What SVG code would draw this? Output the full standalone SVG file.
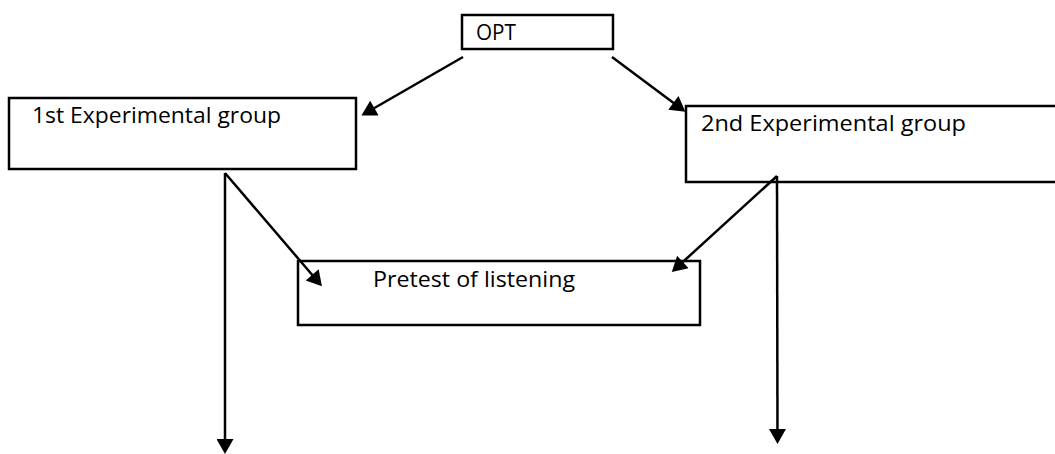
<svg xmlns="http://www.w3.org/2000/svg" width="1055" height="454" viewBox="0 0 1055 454">
  <style>
    .box { fill: none; stroke: #000000; stroke-width: 2.5; }
    .lbl { font-family: "Open Sans", "Liberation Sans", Arial, sans-serif; font-size: 21px; fill: #000000; }
    .conn { stroke: #000000; stroke-width: 2.5; fill: none; marker-end: url(#arrow); }
  </style>
  <defs>
    <marker id="arrow" markerUnits="userSpaceOnUse" markerWidth="17" markerHeight="17" viewBox="0 0 15 17" refX="12" refY="8.5" orient="auto">
      <path d="M0,0 L15,8.5 L0,17 Z" fill="#000000"/>
    </marker>
  </defs>
  <rect width="1055" height="454" fill="#ffffff"/>
  <g id="node-opt">
    <rect class="box" x="462" y="15" width="151" height="34"/>
    <text class="lbl" x="476" y="40" textLength="40" lengthAdjust="spacingAndGlyphs">OPT</text>
  </g>
  <g id="node-first">
    <rect class="box" x="9" y="98" width="347" height="71"/>
    <text class="lbl" x="32" y="123" textLength="249" lengthAdjust="spacingAndGlyphs">1st Experimental group</text>
  </g>
  <g id="node-second">
    <rect class="box" x="686" y="106" width="380" height="76"/>
    <text class="lbl" x="701" y="131" textLength="265" lengthAdjust="spacingAndGlyphs">2nd Experimental  group</text>
  </g>
  <g id="node-pretest">
    <rect class="box" x="298" y="261" width="402" height="64"/>
    <text class="lbl" x="373" y="287" textLength="202" lengthAdjust="spacingAndGlyphs">Pretest of listening</text>
  </g>
  <g id="connectors">
    <line class="conn" x1="463" y1="57" x2="364" y2="114"/>
    <line class="conn" x1="612" y1="57" x2="683" y2="110"/>
    <line class="conn" x1="225" y1="173" x2="320" y2="284"/>
    <line class="conn" x1="225" y1="173" x2="225" y2="451"/>
    <line class="conn" x1="777" y1="176" x2="674" y2="270"/>
    <line class="conn" x1="777" y1="176" x2="777.5" y2="441"/>
  </g>
</svg>
